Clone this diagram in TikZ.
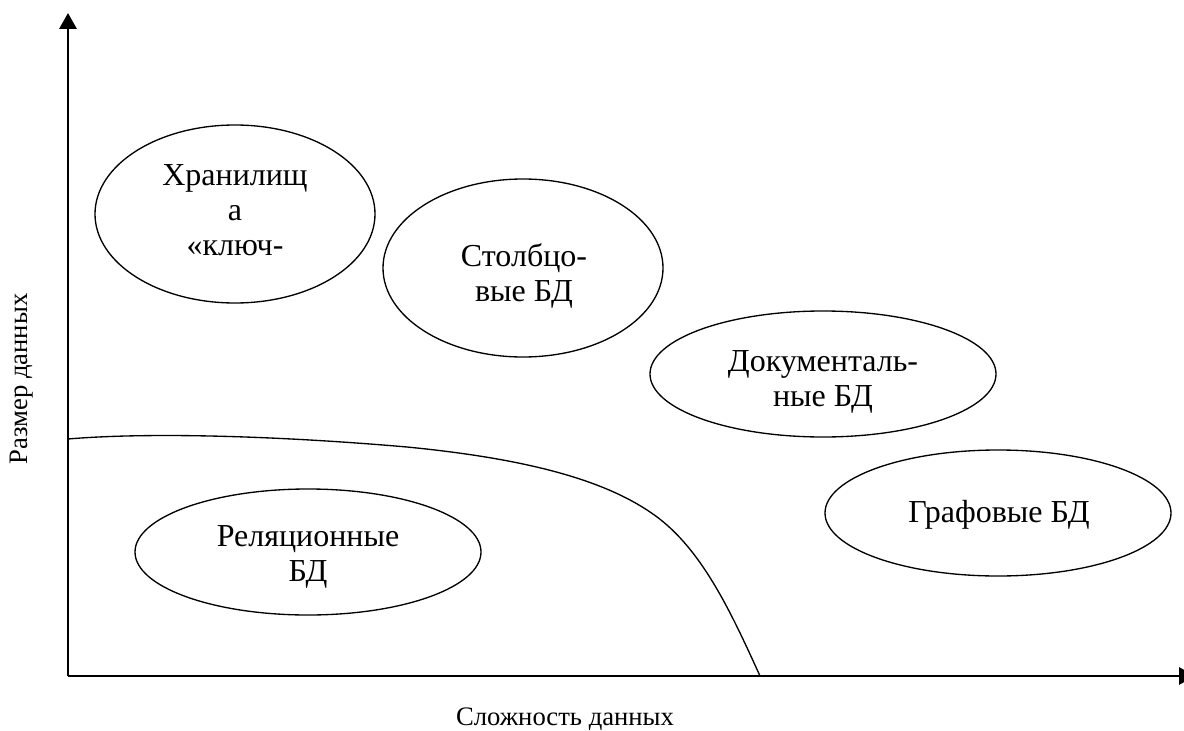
\documentclass[tikz,border=0pt]{standalone}
\usepackage{fontspec}
\setmainfont{Liberation Serif}
\usetikzlibrary{shapes.geometric, arrows.meta}

\begin{document}
\begin{tikzpicture}[x=0.75pt, y=-0.75pt,
  axis/.style={line width=1.6pt, -{Triangle[length=12pt, width=13pt]}},
  boundary/.style={line width=1pt},
  dbarea/.style={draw, ellipse, line width=1pt, inner sep=0pt},
  roundarea/.style={dbarea, minimum width=210pt, minimum height=133.5pt},
  flatarea/.style={dbarea, minimum width=259.5pt, minimum height=94.5pt},
  dbtext/.style={align=center, inner sep=0pt, font=\fontsize{24pt}{26.25pt}\selectfont},
  axistext/.style={inner sep=0pt, font=\fontsize{20pt}{24pt}\selectfont}]

  % page frame
  \useasboundingbox (0,0) rectangle (1184,731);
  \clip (0,0) rectangle (1184,731);

  % axes
  \coordinate (origin) at (68,676);
  \coordinate (ytip) at (68,13);
  \coordinate (xtip) at (1195,676);
  \draw[axis] (origin) -- (ytip);
  \draw[axis] (origin) -- (xtip);

  % axis captions
  \node[axistext] (xcap) at (565,719) {Сложность данных};
  \node[axistext, rotate=90] (ycap) at (22,379) {Размер данных};

  % boundary of the relational region
  \coordinate (bstart) at (68,439);
  \coordinate (bmid)   at (407,447);
  \coordinate (bknee)  at (650,512);
  \coordinate (bend)   at (760,676);
  \draw[boundary] (bstart) .. controls (150,432) and (280,436) .. (bmid)
                           .. controls (520,458) and (600,478) .. (bknee)
                           .. controls (700,545) and (730,610) .. (bend);

  % database classes
  \node[roundarea] (kv)    at (235,214) {};
  \node[roundarea] (col)   at (523,268) {};
  \node[flatarea]  (doc)   at (823,374) {};
  \node[flatarea]  (graph) at (998,513) {};
  \node[flatarea]  (rel)   at (308,552) {};

  \node[dbtext] (kv-t)    at (235,210) {Хранилищ\\а\\«ключ-};
  \node[dbtext] (col-t)   at (524,276) {Столбцо-\\вые БД};
  \node[dbtext] (doc-t)   at (823,382) {Документаль-\\ные БД};
  \node[dbtext] (graph-t) at (999,515) {Графовые БД};
  \node[dbtext] (rel-t)   at (308,557) {Реляционные\\БД};
\end{tikzpicture}
\end{document}
